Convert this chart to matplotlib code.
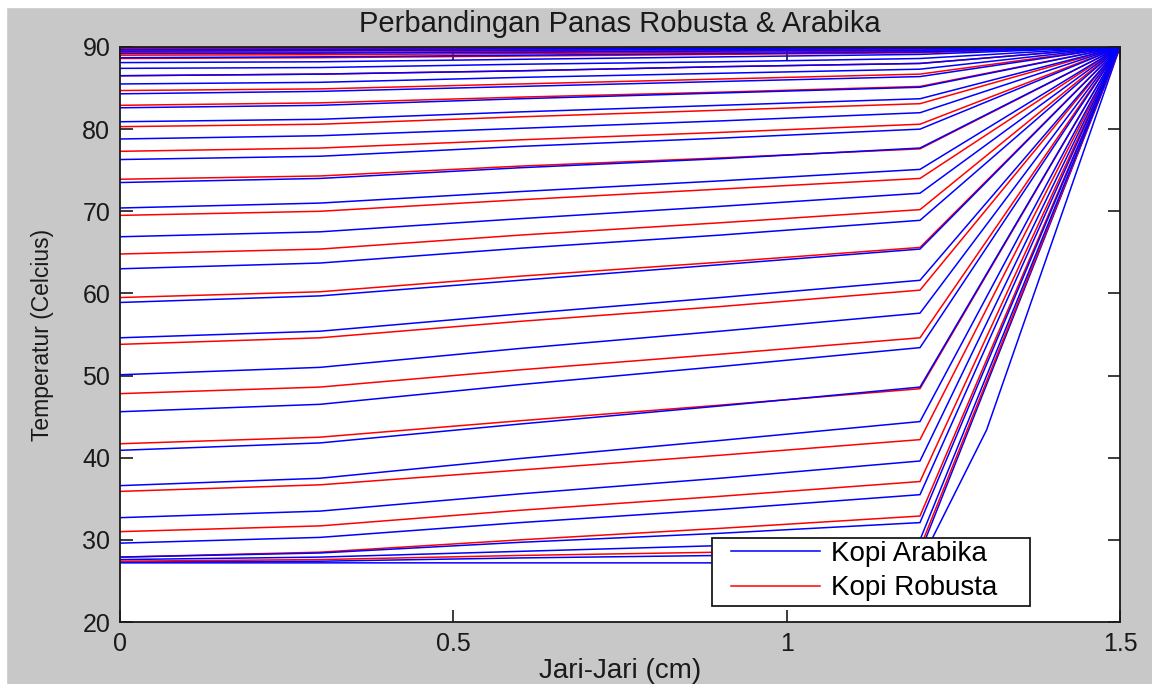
import matplotlib
matplotlib.use('Agg')
import matplotlib.pyplot as plt
from matplotlib.patches import Rectangle

# node positions along the radius (cm)
r_nodes = [0, 0.3, 0.6, 0.9, 1.2, 1.5]
r_first = [0, 0.3, 0.6, 0.9, 1.2, 1.3, 1.5]

# first Arabika profile (has an extra node at 1.3)
arabika_first = [27.2, 27.2, 27.2, 27.2, 27.2, 43.4, 90]

# temperature profiles, earliest (lowest) first
arabika = [
    [27.3, 27.4, 27.8, 28.1, 28.4, 90],
    [27.6, 27.9, 28.6, 29.3, 30.0, 90],
    [27.9, 28.4, 29.7, 30.8, 32.1, 90],
    [29.6, 30.3, 32.1, 33.7, 35.5, 90],
    [32.7, 33.5, 35.6, 37.5, 39.6, 90],
    [36.6, 37.5, 39.9, 42.1, 44.4, 90],
    [40.9, 41.8, 44.1, 46.3, 48.6, 90],
    [45.6, 46.5, 48.9, 51.1, 53.4, 90],
    [50.1, 51.0, 53.3, 55.4, 57.6, 90],
    [54.6, 55.4, 57.5, 59.5, 61.6, 90],
    [58.9, 59.7, 61.6, 63.5, 65.4, 90],
    [63.0, 63.7, 65.5, 67.1, 68.9, 90],
    [66.9, 67.5, 69.1, 70.6, 72.2, 90],
    [70.4, 71.0, 72.4, 73.7, 75.1, 90],
    [73.5, 74.0, 75.3, 76.4, 77.7, 90],
    [76.3, 76.7, 77.9, 78.9, 80.0, 90],
    [78.8, 79.2, 80.1, 81.0, 82.0, 90],
    [80.9, 81.2, 82.1, 82.9, 83.7, 90],
    [82.6, 82.9, 83.7, 84.4, 85.1, 90],
    [84.3, 84.6, 85.2, 85.8, 86.4, 90],
    [85.5, 85.7, 86.3, 86.8, 87.3, 90],
    [86.5, 86.7, 87.1, 87.6, 88.0, 90],
    [87.4, 87.5, 87.9, 88.2, 88.6, 90],
    [88.1, 88.2, 88.5, 88.8, 89.1, 90],
    [88.7, 88.8, 89.0, 89.2, 89.4, 90],
    [89.2, 89.25, 89.35, 89.5, 89.6, 90],
    [89.5, 89.55, 89.6, 89.7, 89.8, 90],
    [89.7, 89.72, 89.78, 89.84, 89.9, 90],
]

robusta = [
    [27.4, 27.6, 28.1, 28.5, 29.0, 90],
    [27.9, 28.5, 30.0, 31.4, 32.9, 90],
    [31.0, 31.7, 33.6, 35.3, 37.1, 90],
    [35.9, 36.7, 38.5, 40.3, 42.2, 90],
    [41.7, 42.5, 44.5, 46.4, 48.4, 90],
    [47.8, 48.6, 50.7, 52.6, 54.6, 90],
    [53.8, 54.6, 56.6, 58.4, 60.4, 90],
    [59.5, 60.2, 62.1, 63.8, 65.6, 90],
    [64.8, 65.4, 67.1, 68.6, 70.2, 90],
    [69.5, 70.0, 71.4, 72.7, 74.0, 90],
    [73.9, 74.3, 75.5, 76.5, 77.6, 90],
    [77.3, 77.7, 78.7, 79.6, 80.6, 90],
    [80.3, 80.6, 81.5, 82.3, 83.1, 90],
    [82.9, 83.2, 83.9, 84.5, 85.2, 90],
    [84.7, 84.9, 85.5, 86.1, 86.7, 90],
    [86.5, 86.7, 87.1, 87.6, 88.0, 90],
    [88.6, 88.7, 88.9, 89.1, 89.3, 90],
    [89.0, 89.06, 89.2, 89.35, 89.5, 90],
    [89.3, 89.35, 89.45, 89.58, 89.7, 90],
    [89.5, 89.54, 89.63, 89.71, 89.8, 90],
    [89.7, 89.72, 89.78, 89.84, 89.9, 90],
    [89.8, 89.81, 89.85, 89.88, 89.92, 90],
    [89.9, 89.91, 89.93, 89.94, 89.96, 90],
    [89.95, 89.95, 89.96, 89.97, 89.98, 90],
]

x_ticks = [0, 0.5, 1, 1.5]
x_ticklabels = ['0', '0.5', '1', '1.5']
y_ticks = [20, 30, 40, 50, 60, 70, 80, 90]

plt.rcParams['font.family'] = ['Liberation Sans', 'DejaVu Sans']
ink = '#1a1a1a'

fig = plt.figure(figsize=(11.52, 6.84), dpi=100, facecolor='#c8c8c8')
# thin white border of the screenshot (left and top)
fig.patches.append(Rectangle((0, 0), 6 / 1152, 1, transform=fig.transFigure,
                             color='white', zorder=-10))
fig.patches.append(Rectangle((0, (684 - 7) / 684), 1, 7 / 684, transform=fig.transFigure,
                             color='white', zorder=-10))

ax = fig.add_axes([120 / 1152, (684 - 622) / 684, 1000 / 1152, 575 / 684])
ax.set_facecolor('white')

lw = 1.1
h_blue, = ax.plot(r_first, arabika_first, color='blue', lw=lw)
n = max(len(arabika), len(robusta))
for i in range(n):
    if i < len(arabika):
        ax.plot(r_nodes, arabika[i], color='blue', lw=lw)
    if i < len(robusta):
        line, = ax.plot(r_nodes, robusta[i], color='red', lw=lw)
        if i == 0:
            h_red = line

ax.set_xlim(0, 1.5)
ax.set_ylim(20, 90)
ax.set_xticks(x_ticks)
ax.set_xticklabels(x_ticklabels)
ax.set_yticks(y_ticks)
ax.tick_params(direction='in', length=9, width=1.2, top=True, right=True,
               labelsize=18, colors=ink, pad=7)
for s in ax.spines.values():
    s.set_linewidth(1.3)
    s.set_color(ink)

ax.set_title('Perbandingan Panas Robusta & Arabika', fontsize=21, color=ink, pad=11)
ax.set_xlabel('Jari-Jari (cm)', fontsize=20, color=ink, labelpad=2)
ax.set_ylabel('Temperatur (Celcius)', fontsize=16.5, color=ink, labelpad=20)

# legend box drawn separately so the inner padding can differ per direction
ax.add_patch(Rectangle((0.592, 0.028), 0.318, 0.118, transform=ax.transAxes,
                       facecolor='white', edgecolor=ink, lw=1.3, zorder=4))
leg = ax.legend([h_blue, h_red], ['Kopi Arabika', 'Kopi Robusta'],
                loc='upper left', bbox_to_anchor=(0.611, 0.141),
                fontsize=20, frameon=False, borderpad=0, borderaxespad=0,
                handlelength=3.2, handletextpad=0.4, labelspacing=0.3)
leg.set_zorder(5)

fig.savefig('out.png', dpi=100, facecolor=fig.get_facecolor())
